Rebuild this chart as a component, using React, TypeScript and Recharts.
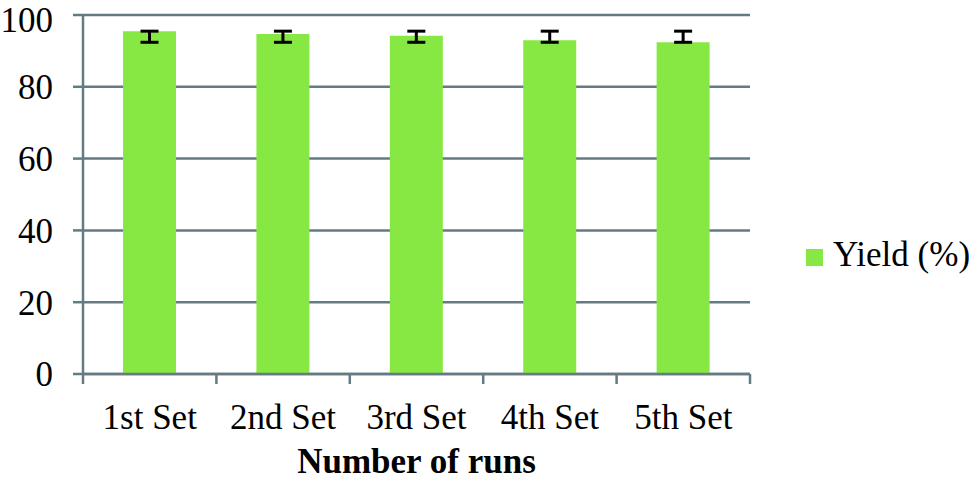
import { BarChart, Bar, XAxis, YAxis, CartesianGrid, ErrorBar, Legend } from "recharts";

const categories = ["1st Set", "2nd Set", "3rd Set", "4th Set", "5th Set"];
const yieldValues = [95.5, 94.7, 94.2, 93.0, 92.4];
// error bars are drawn asymmetric in the source chart
const errLower = [3.1, 2.3, 1.8, 0.6, 0.0];
const errUpper = [0.0, 0.8, 1.3, 2.5, 3.1];
const yTicks = [0, 20, 40, 60, 80, 100];

const data = categories.map((name, i) => ({
  name,
  yield: yieldValues[i],
  err: [errLower[i], errUpper[i]],
}));

const FONT = '"Liberation Serif", "Times New Roman", serif';
const AXIS = "#647a84";
const GREEN = "#88e843";
const TICK_GAP = 30; // distance from axis line to tick label anchor

// Excel-style category axis: tick marks sit on the category boundaries
function CategoryTick(props: any) {
  const { x, y, payload, index } = props;
  const half = payload.offset || 0;
  const axisY = y - TICK_GAP;
  return (
    <g>
      <line x1={x - half} y1={axisY} x2={x - half} y2={axisY + 10} stroke={AXIS} strokeWidth={2.5} />
      {index === categories.length - 1 && (
        <line x1={x + half} y1={axisY} x2={x + half} y2={axisY + 10} stroke={AXIS} strokeWidth={2.5} />
      )}
      <text x={x} y={y} dy="0.71em" textAnchor="middle" fill="#000" fontSize={35} fontFamily={FONT}>
        {payload.value}
      </text>
    </g>
  );
}

export default function App() {
  return (
    <div style={{ position: "absolute", left: 0, top: 0, width: 980, height: 485, background: "#fff" }}>
      <BarChart
        width={980}
        height={485}
        data={data}
        margin={{ top: 15, right: 230, left: 0, bottom: 0 }}
        barCategoryGap="30%"
      >
        <CartesianGrid vertical={false} stroke={AXIS} strokeWidth={2.5} />
        <XAxis
          dataKey="name"
          height={111}
          axisLine={{ stroke: AXIS, strokeWidth: 2.5 }}
          tickLine={false}
          tickSize={0}
          tickMargin={TICK_GAP}
          tick={<CategoryTick />}
          interval={0}
          label={{
            value: "Number of runs",
            position: "insideBottom",
            offset: 12,
            style: { fill: "#000", fontSize: 35, fontWeight: "bold", fontFamily: FONT },
          }}
        />
        <YAxis
          width={83}
          domain={[0, 100]}
          ticks={yTicks}
          axisLine={{ stroke: AXIS, strokeWidth: 2.5 }}
          tickLine={{ stroke: AXIS, strokeWidth: 2.5 }}
          tickSize={10}
          tickMargin={20}
          tick={{ fill: "#000", fontSize: 35, fontFamily: FONT }}
        />
        <Legend
          layout="horizontal"
          verticalAlign="middle"
          align="center"
          iconType="square"
          iconSize={17}
          wrapperStyle={{
            left: 806,
            top: 235,
            width: 174,
            textAlign: "left",
            fontSize: 35,
            fontFamily: FONT,
          }}
          formatter={(value) => (
            <span style={{ color: "#000", marginLeft: 6, whiteSpace: "nowrap" }}>{value}</span>
          )}
        />
        <Bar dataKey="yield" name="Yield (%)" fill={GREEN} isAnimationActive={false}>
          <ErrorBar dataKey="err" direction="y" width={9} stroke="#000" strokeWidth={3} />
        </Bar>
      </BarChart>
    </div>
  );
}
